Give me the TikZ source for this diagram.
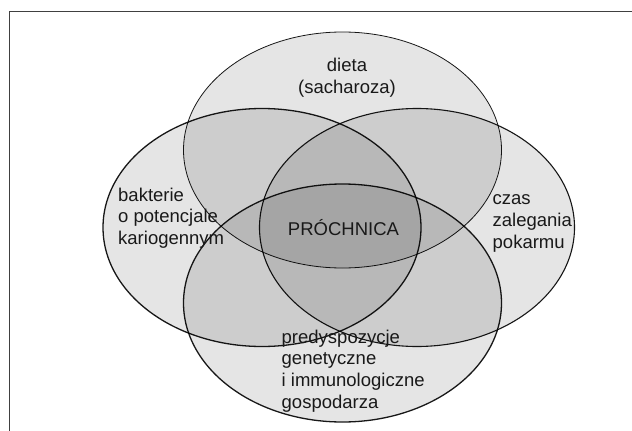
\documentclass[tikz,border=0pt]{standalone}
\usepackage{fontspec}
\setmainfont{Liberation Sans}
\begin{document}
\begin{tikzpicture}[x=1pt,y=-1pt,
  venn/.style={fill=black,fill opacity=0.1,draw=black,draw opacity=0.9},
  lbl/.style={inner sep=0pt,align=left,font=\fontsize{18.5}{21.7}\selectfont,text=black!90}]
\useasboundingbox (0,0) rectangle (632,431);
\fill[white] (0,0) rectangle (632,431);
% frame
\draw[line width=1.3pt,black!75] (9.5,431) -- (9.5,11.5) -- (632,11.5);
% ellipses
\draw[venn,line width=0.8pt] (342.5,150) ellipse [x radius=159pt, y radius=118pt];
\draw[venn,line width=1.1pt] (417,227.5) ellipse [x radius=157.5pt, y radius=119pt];
\draw[venn,line width=1.3pt] (262,227.5) ellipse [x radius=159pt, y radius=119pt];
\draw[venn,line width=1.3pt] (342.5,303) ellipse [x radius=159pt, y radius=119pt];
% labels
\node[lbl,align=center] (dieta) at (347,78) {dieta\\(sacharoza)};
\node[lbl,anchor=west] (bakt) at (118,218) {bakterie\\o potencjale\\kariogennym};
\node[lbl,anchor=west] (czas) at (492.5,223.5) {czas\\zalegania\\pokarmu};
\node[lbl] (pr) at (343.5,228) {PRÓCHNICA};
\node[lbl,anchor=west] (pred) at (281.5,371) {predyspozycje\\genetyczne\\i immunologiczne\\gospodarza};
\end{tikzpicture}
\end{document}
